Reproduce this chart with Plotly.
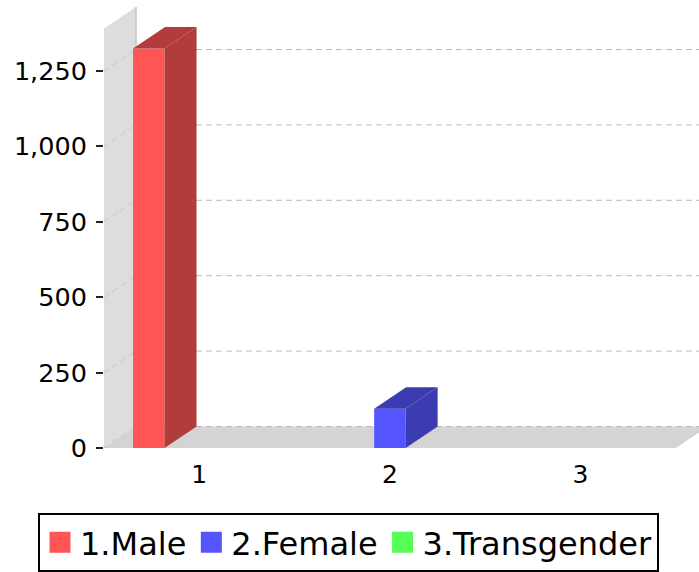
import plotly.graph_objects as go

# ---- data ----
categories = ["1", "2", "3"]
series_names = ["1.Male", "2.Female", "3.Transgender"]
series_category = [1, 2, 3]          # category index (1-based) for each series
series_values = [1325, 130, 0]
y_tick_values = [0, 250, 500, 750, 1000, 1250]
y_axis_max = 1391

front_colors = ["#ff5555", "#5555ff", "#55ff55"]
side_colors = ["#b23b3b", "#3b3bb2", "#3bb23b"]

# ---- layout geometry ----
W, H = 699, 572
ML, MR, MT, MB = 104, 0, 7, 124
plot_w = W - ML - MR
plot_h = H - MT - MB
X_PX = 190.6                     # pixels per category
DX_PX, DY_PX = 32.0, 21.5        # 3D depth offset in pixels
DX = DX_PX / X_PX
y_scale = (plot_h - DY_PX) / y_axis_max
DY = DY_PX / y_scale
x0, x1 = 0.5, 0.5 + len(categories)   # front plot area in data units
x_range = [0.5, 0.5 + plot_w / X_PX]
y_range = [0, y_axis_max + DY]
slot = 50.5 / X_PX
bar_w = 31.5 / X_PX
n_series = len(series_names)

def path(pts):
    return "M " + " L ".join(f"{x},{y}" for x, y in pts) + " Z"

shapes = []
# wall
shapes.append(dict(type="path", layer="below", xref="x", yref="y",
                   path=path([(x0, 0), (x0, y_axis_max), (x0 + DX, y_axis_max + DY), (x0 + DX, DY)]),
                   fillcolor="#dddddd", line=dict(width=0)))
# floor
shapes.append(dict(type="path", layer="below", xref="x", yref="y",
                   path=path([(x0, 0), (x1, 0), (x1 + DX, DY), (x0 + DX, DY)]),
                   fillcolor="#d4d4d4", line=dict(width=0)))
# wall back edge
shapes.append(dict(type="line", layer="below", xref="x", yref="y",
                   x0=x0 + DX, x1=x0 + DX, y0=DY, y1=y_axis_max + DY,
                   line=dict(color="#c4c4c4", width=1.5)))
# gridlines (back plane + wall diagonals)
for v in y_tick_values:
    shapes.append(dict(type="line", layer="below", xref="x", yref="y",
                       x0=x0 + DX, x1=x1 + DX, y0=v + DY, y1=v + DY,
                       line=dict(color="#bcbcbc", width=1, dash="6px,4px")))
    shapes.append(dict(type="line", layer="below", xref="x", yref="y",
                       x0=x0, x1=x0 + DX, y0=v, y1=v + DY,
                       line=dict(color="#c8c8c8", width=1, dash="6px,4px")))

fig = go.Figure()

for i in range(n_series):
    v = series_values[i]
    if not v:
        continue
    c = series_category[i] + (i - (n_series - 1) / 2) * slot
    xl, xr = c - bar_w / 2, c + bar_w / 2
    # front face
    fig.add_trace(go.Bar(x=[c], y=[v], width=[bar_w], marker=dict(color=front_colors[i], line=dict(width=0)),
                         showlegend=False, hoverinfo="skip"))
    # side face
    fig.add_trace(go.Scatter(x=[xr, xr, xr + DX, xr + DX, xr], y=[0, v, v + DY, DY, 0],
                             fill="toself", fillcolor=side_colors[i], mode="lines",
                             line=dict(width=0, color=side_colors[i]), showlegend=False, hoverinfo="skip"))
    # top face
    fig.add_trace(go.Scatter(x=[xl, xr, xr + DX, xl + DX, xl], y=[v, v, v + DY, v + DY, v],
                             fill="toself", fillcolor=side_colors[i], mode="lines",
                             line=dict(width=0, color=side_colors[i]), showlegend=False, hoverinfo="skip"))

# legend entries
for i in range(n_series):
    fig.add_trace(go.Scatter(x=[None], y=[None], mode="markers", name=series_names[i],
                             marker=dict(symbol="square", size=16, color=front_colors[i],
                                         line=dict(width=5, color=front_colors[i]))))

fig.update_layout(
    width=W, height=H,
    margin=dict(l=ML, r=MR, t=MT, b=MB, pad=0, autoexpand=False),
    paper_bgcolor="white", plot_bgcolor="white",
    barmode="overlay",
    font=dict(family="DejaVu Sans", color="#000000", size=25),
    shapes=shapes,
    showlegend=True,
    legend=dict(orientation="h",
                x=(38 - ML) / plot_w, xanchor="left",
                y=(MT + plot_h - 513) / plot_h, yanchor="top",
                font=dict(size=32, family="DejaVu Sans"),
                bordercolor="#000000", borderwidth=2, bgcolor="white",
                itemsizing="trace"),
    xaxis=dict(range=x_range, tickvals=[1, 2, 3], ticktext=categories,
               showgrid=False, zeroline=False, showline=False,
               ticks="outside", ticklen=4, tickcolor="rgba(0,0,0,0)",
               tickfont=dict(size=25), fixedrange=True),
    yaxis=dict(range=y_range, tickvals=y_tick_values, tickformat=",d",
               showgrid=False, zeroline=False, showline=False,
               ticks="outside", ticklen=7, tickwidth=2, tickcolor="#222222",
               tickfont=dict(size=25.5), ticklabelstandoff=4, fixedrange=True),
)

fig.write_html("out.html", config={"displayModeBar": False},
               post_script="document.body.style.margin='0px';document.body.style.overflow='hidden';")
